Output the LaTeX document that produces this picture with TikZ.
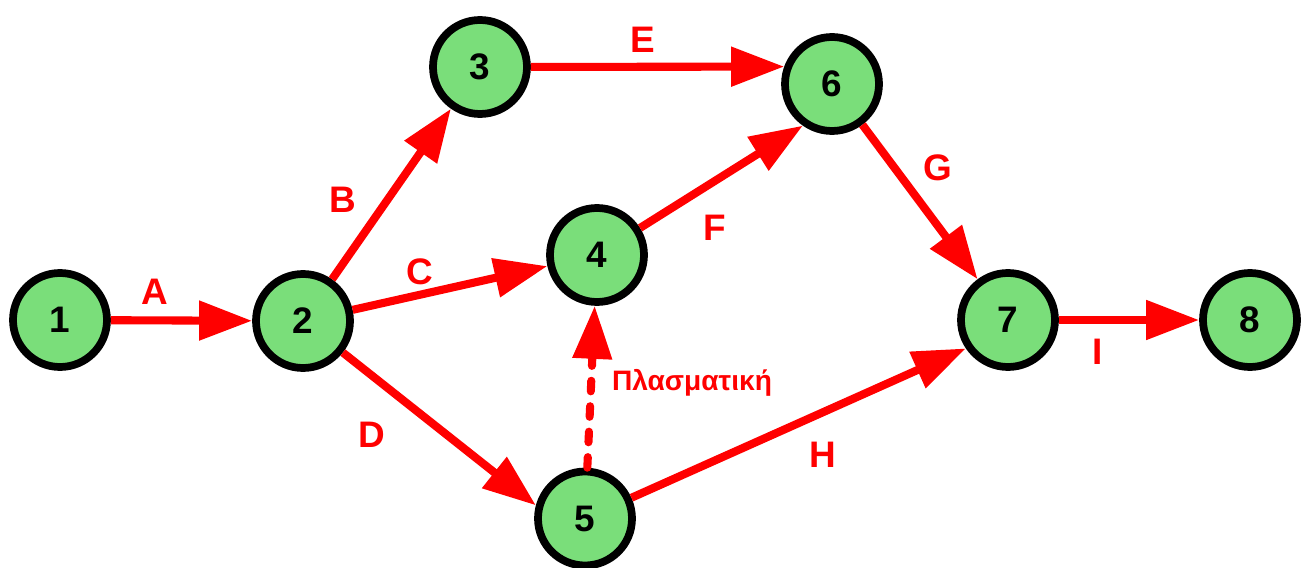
\documentclass[tikz,border=0pt]{standalone}
\usepackage{fontspec}
\setmainfont{Liberation Sans}
\usepackage{tikz}
\usetikzlibrary{arrows.meta}

\definecolor{evgreen}{RGB}{122,222,122}

\begin{document}
\begin{tikzpicture}[font = \fontsize{21}{24}\selectfont\bfseries,
        event/.style = {circle, draw = black, line width = 4.4pt, fill = evgreen, minimum size = 1.88cm, inner sep = 0pt},
        task/.style = {draw = red, line width = 4.6pt, -{Triangle[length = 1.06cm, width = 0.76cm]}},
        dummy/.style = {task, line cap = round, dash pattern = on 6pt off 8.5pt},
        lbl/.style = {text = red}]
        \useasboundingbox (0,0) rectangle (26.06,11.34);

        % events
        \node [event] (n1) at (1.2,4.94) {1};
        \node [event] (n2) at (6.06,4.92) {2};
        \node [event] (n3) at (9.6,10.0) {3};
        \node [event] (n4) at (11.94,6.24) {4};
        \node [event] (n5) at (11.7,0.97) {5};
        \node [event] (n6) at (16.64,9.66) {6};
        \node [event] (n7) at (20.16,4.94) {7};
        \node [event] (n8) at (25.0,4.94) {8};

        % activities
        \draw [task] (n1) -- (n2);
        \draw [task] (n2) -- (n3);
        \draw [task] (n2) -- (n4);
        \draw [task] (n2) -- (n5.165);
        \draw [task] (n3) -- (n6.160);
        \draw [task] (n4) -- (n6.235);
        \draw [task] (n6) -- (n7);
        \draw [task] (n5) -- (n7.214);
        \draw [task] (n7) -- (n8);
        \draw [dummy] (n5) -- (n4);

        % activity names
        \node [lbl] (lA) at (3.1,5.5) {A};
        \node [lbl] (lB) at (6.86,7.34) {B};
        \node [lbl] (lC) at (8.4,5.9) {C};
        \node [lbl] (lD) at (7.44,2.64) {D};
        \node [lbl] (lE) at (12.86,10.54) {E};
        \node [lbl] (lF) at (14.3,6.78) {F};
        \node [lbl] (lG) at (18.76,7.98) {G};
        \node [lbl] (lH) at (16.46,2.24) {H};
        \node [lbl] (lI) at (21.96,4.3) {I};
        \node [lbl, font = \fontsize{16}{19}\selectfont\bfseries] (ldummy) at (13.84,3.68) {Πλασματική};
    \end{tikzpicture}
\end{document}
